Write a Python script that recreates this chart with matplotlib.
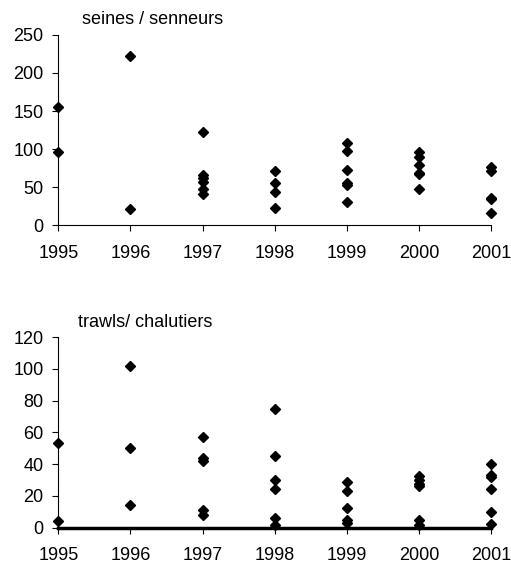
import matplotlib.pyplot as plt

plt.rcParams['font.family'] = ['Liberation Sans', 'DejaVu Sans']

years = [1995, 1996, 1997, 1998, 1999, 2000, 2001]

# seines / senneurs - values per year
seine_years = [1995, 1995,
               1996, 1996,
               1997, 1997, 1997, 1997, 1997, 1997,
               1998, 1998, 1998, 1998,
               1999, 1999, 1999, 1999, 1999, 1999,
               2000, 2000, 2000, 2000, 2000, 2000,
               2001, 2001, 2001, 2001, 2001]
seine_vals = [155, 96,
              222, 21,
              122, 66, 62, 57, 47, 41,
              71, 55, 44, 22,
              108, 97, 73, 55, 53, 31,
              96, 90, 79, 69, 67, 47,
              76, 71, 36, 34, 16]

# trawls / chalutiers
trawl_years = [1995, 1995,
               1996, 1996, 1996,
               1997, 1997, 1997, 1997, 1997,
               1998, 1998, 1998, 1998, 1998, 1998,
               1999, 1999, 1999, 1999, 1999,
               2000, 2000, 2000, 2000, 2000, 2000,
               2001, 2001, 2001, 2001, 2001, 2001]
trawl_vals = [53, 4,
              102, 50, 14,
              57, 44, 42, 11, 8,
              75, 45, 30, 24, 6, 1.5,
              28.5, 23, 12.5, 4.5, 3,
              32.5, 30, 27.5, 26, 4.5, 1.5,
              40, 33, 32, 24.5, 10, 2]

fig = plt.figure(figsize=(5.11, 5.63), dpi=100)
ax1 = fig.add_axes([0.114, 0.600, 0.847, 0.338])
ax2 = fig.add_axes([0.114, 0.063, 0.847, 0.338])

def style(ax, ymax, step, title, tx, ty):
    ax.set_xlim(1995, 2001)
    ax.set_ylim(0, ymax)
    ax.set_xticks(years)
    ax.set_yticks(range(0, ymax + 1, step))
    for s in ['top', 'right']:
        ax.spines[s].set_visible(False)
    for s in ['left', 'bottom']:
        ax.spines[s].set_linewidth(0.8)
    ax.tick_params(axis='both', direction='out', length=4.5, width=0.8, labelsize=13)
    ax.tick_params(axis='x', pad=9.5)
    ax.tick_params(axis='y', pad=6)
    ax.text(tx, ty, title, transform=ax.transAxes, fontsize=13, va='baseline')
    for lbl in ax.get_xticklabels():
        lbl.set_clip_on(False)

ax1.plot(seine_years, seine_vals, 'D', color='black', ms=5.5, clip_on=False)
style(ax1, 250, 50, 'seines / senneurs', 0.055, 1.058)

ax2.plot(trawl_years, trawl_vals, 'D', color='black', ms=5.5, clip_on=False, zorder=3)
style(ax2, 120, 20, 'trawls/ chalutiers', 0.046, 1.054)
ax2.spines['bottom'].set_linewidth(2.5)

fig.savefig('out.png', dpi=100)
